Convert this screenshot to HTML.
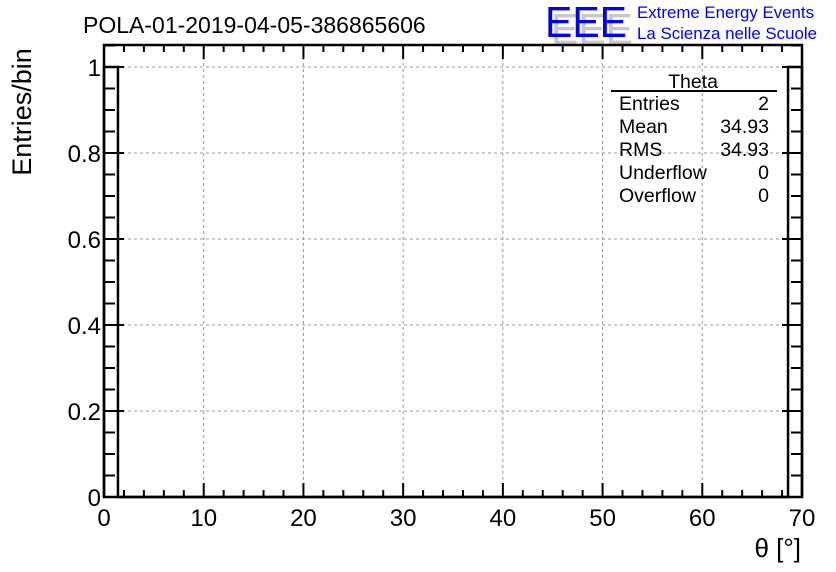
<!DOCTYPE html>
<html><head><meta charset="utf-8"><style>
html,body{margin:0;padding:0;background:#fff;width:836px;height:572px;overflow:hidden}
svg{display:block;font-family:"Liberation Sans",sans-serif}
</style></head><body>
<svg id="c" width="836" height="572" xmlns="http://www.w3.org/2000/svg">
<text x="83" y="33" font-size="23" fill="#000">POLA-01-2019-04-05-386865606</text>
<g>
<text x="551" y="44" font-size="44" fill="#c8c8c8" textLength="82" lengthAdjust="spacingAndGlyphs">EEE</text>
<text x="545" y="37" font-size="44" fill="#0000ff" textLength="82" lengthAdjust="spacingAndGlyphs">EEE</text>
<text x="637" y="18" font-size="16.5" fill="#0000ff" textLength="177" lengthAdjust="spacingAndGlyphs">Extreme Energy Events</text>
<text x="637" y="39" font-size="16.5" fill="#0000ff" textLength="180" lengthAdjust="spacingAndGlyphs">La Scienza nelle Scuole</text>
</g>
<text transform="translate(31,112) rotate(-90)" text-anchor="middle" font-size="27">Entries/bin</text>
<text x="801" y="557" text-anchor="end" font-size="26">θ [°]</text>
<g id="grid"></g><g id="axes"></g><g id="hist"></g>
<g font-size="19.5">
<text x="693" y="88" text-anchor="middle">Theta</text>
<line x1="611" y1="91" x2="777" y2="91" stroke="#000" stroke-width="2"/>
<g id="stats"></g>
</g>
</svg>
<script>
const xTicks=[0,10,20,30,40,50,60,70];
const yTicks=[0,0.2,0.4,0.6,0.8,1];
const yTickLabels=["0","0.2","0.4","0.6","0.8","1"];
const binEdges=[0,1.4,68.6,70];
const binValues=[1,0,1];
const statLabels=["Entries","Mean","RMS","Underflow","Overflow"];
const statValues=["2","34.93","34.93","0","0"];
const NS="http://www.w3.org/2000/svg";
const L=104,R=802,T=45,B=497;
const xs=v=>L+(v-0)/(70-0)*(R-L);
const ys=v=>B-v*(B-67);
function mk(tag,attrs,parent,text){const e=document.createElementNS(NS,tag);for(const k in attrs)e.setAttribute(k,attrs[k]);if(text!==undefined)e.textContent=text;parent.appendChild(e);return e;}
const grid=document.getElementById('grid'),axes=document.getElementById('axes'),hist=document.getElementById('hist'),stats=document.getElementById('stats');
xTicks.forEach(v=>{if(v>0&&v<70){const g=mk('line',{x1:xs(v),y1:T,x2:xs(v),y2:B,stroke:'#999','stroke-dasharray':'3,3','stroke-width':1},grid);

}});
yTicks.forEach(v=>{if(v>0){const g=mk('line',{x1:L,y1:ys(v),x2:R,y2:ys(v),stroke:'#999','stroke-dasharray':'3,3','stroke-width':1},grid);

}});
const fr=mk('rect',{x:L,y:T,width:R-L,height:B-T,fill:'none',stroke:'#000','stroke-width':2.5},axes);


for(let v=0;v<=70;v+=2){const major=v%10===0;const len=major?14:7;
mk('line',{x1:xs(v),y1:B,x2:xs(v),y2:B-len,stroke:'#000','stroke-width':2},axes);
mk('line',{x1:xs(v),y1:T,x2:xs(v),y2:T+len,stroke:'#000','stroke-width':2},axes);}
for(let i=0;i<=21;i++){const v=i*0.05;const major=i%4===0;const len=major?20:11;
mk('line',{x1:L,y1:ys(v),x2:L+len,y2:ys(v),stroke:'#000','stroke-width':2},axes);
mk('line',{x1:R,y1:ys(v),x2:R-len,y2:ys(v),stroke:'#000','stroke-width':2},axes);}
xTicks.forEach(v=>{const t=mk('text',{x:xs(v),y:526,'text-anchor':'middle','font-size':24},axes,String(v));

});
yTicks.forEach((v,i)=>{const t=mk('text',{x:101,y:ys(v)+9,'text-anchor':'end','font-size':24},axes,yTickLabels[i]);

});
let d='';
binValues.forEach((v,i)=>{const x0=xs(binEdges[i]),x1=xs(binEdges[i+1]),y=ys(v);d+=(i===0?'M'+x0+','+ys(0)+' L':' L')+x0+','+y+' L'+x1+','+y;});
d+=' L'+xs(binEdges[binEdges.length-1])+','+ys(0);
const p=mk('path',{d:d,fill:'none',stroke:'#000','stroke-width':2.5},hist);


statLabels.forEach((s,i)=>{const y=110+i*23;
const a=mk('text',{x:619,y:y},stats,s);


const b=mk('text',{x:769,y:y,'text-anchor':'end'},stats,statValues[i]);

});
</script>
</body></html>
